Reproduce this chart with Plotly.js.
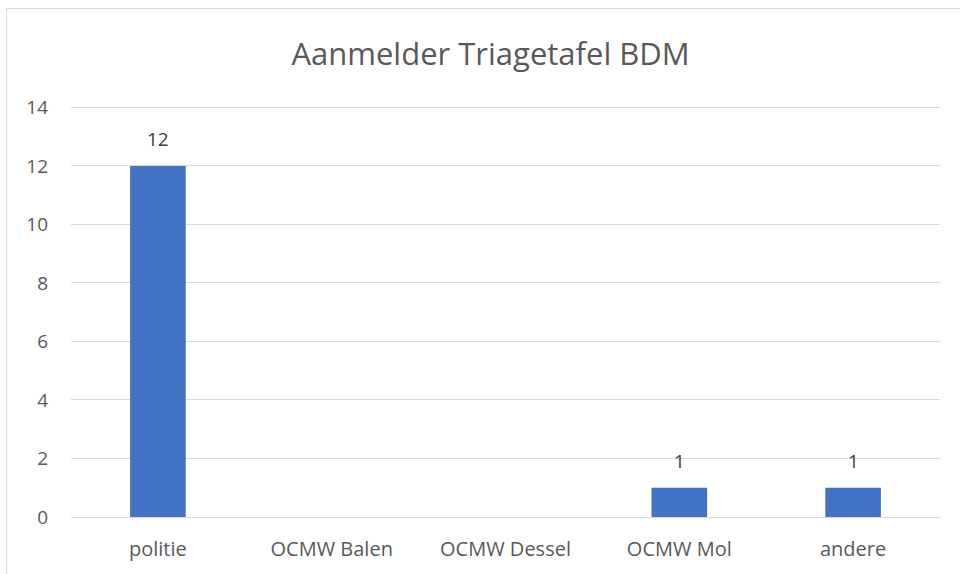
<!DOCTYPE html>
<html>
<head>
<meta charset="utf-8">
<script src="https://cdn.plot.ly/plotly-3.0.1.min.js"></script>
<style>
html,body{margin:0;padding:0;background:#fff;}
#wrap{position:relative;width:960px;height:574px;overflow:hidden;}
#frame{position:absolute;left:6px;top:8px;width:960px;height:600px;border:1px solid #d9d9d9;box-sizing:border-box;pointer-events:none;}
#chart{position:absolute;left:0;top:0;width:960px;height:574px;}
</style>
</head>
<body>
<div id="wrap">
<div id="chart"></div>
<div id="frame"></div>
</div>
<script>
var categories = ["politie", "OCMW Balen", "OCMW Dessel", "OCMW Mol", "andere"];
var values = [12, 0, 0, 1, 1];
var yTicks = [0, 2, 4, 6, 8, 10, 12, 14];
var chartTitle = "Aanmelder Triagetafel BDM";

var fontFam = "'Open Sans', 'Noto Sans', sans-serif";
var labelAnn = [];
categories.forEach(function(c, i){
  if (values[i]) {
    labelAnn.push({x: c, y: values[i], xref: "x", yref: "y", text: String(values[i]),
      showarrow: false, yshift: 27, yanchor: "middle",
      font: {family: fontFam, size: 19, color: "#404040"}});
  }
});

Plotly.newPlot("chart", [{
  type: "bar",
  x: categories,
  y: values,
  marker: {color: "#4472C4"},
  width: 0.32,
  hoverinfo: "x+y"
}], {
  width: 960,
  height: 574,
  margin: {l: 71, r: 20, t: 105.5, b: 57},
  paper_bgcolor: "#fff",
  plot_bgcolor: "#fff",
  showlegend: false,
  title: {text: chartTitle, x: 0.511, xanchor: "center", y: 0.905, yanchor: "middle",
          font: {family: fontFam, size: 31, color: "#595959"}},
  xaxis: {type: "category", showgrid: false, zeroline: false, showline: false,
          ticks: "", ticklabelstandoff: 18,
          tickfont: {family: fontFam, size: 20, color: "#595959"}},
  yaxis: {range: [0, 14.05], tickvals: yTicks, ticktext: yTicks.map(String),
          showgrid: true, gridcolor: "#d9d9d9", gridwidth: 1, zeroline: true,
          zerolinecolor: "#d9d9d9", zerolinewidth: 1, showline: false, ticks: "",
          ticklabelstandoff: 22,
          tickfont: {family: fontFam, size: 19, color: "#595959"}},
  annotations: labelAnn
}, {displayModeBar: false, staticPlot: true});
</script>
</body>
</html>
